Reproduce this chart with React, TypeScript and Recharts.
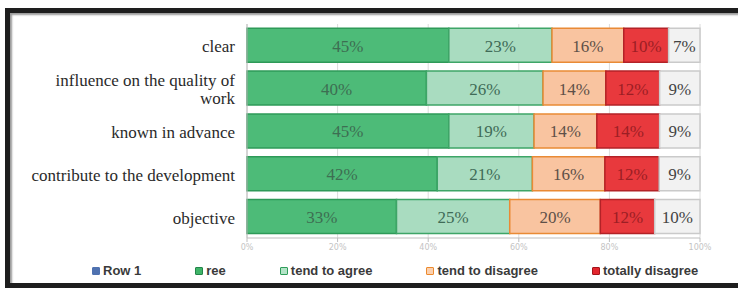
import { BarChart, Bar, XAxis, YAxis, CartesianGrid, LabelList } from 'recharts';

const categories = [
    'clear',
    'influence on the quality of work',
    'known in advance',
    'contribute to the development',
    'objective',
];
const agree = [45, 40, 45, 42, 33];
const tendToAgree = [23, 26, 19, 21, 25];
const tendToDisagree = [16, 14, 14, 16, 20];
const totallyDisagree = [10, 12, 14, 12, 12];
const noAnswer = [7, 9, 9, 9, 10];
const xTicks = [0, 0.2, 0.4, 0.6, 0.8, 1];
const legendLabels = ['Row 1', 'ree', 'tend to agree', 'tend to disagree', 'totally disagree'];

const legendColors = [
    { fill: '#4f72b0', stroke: '#4f72b0' },
    { fill: '#3fb468', stroke: '#23854a' },
    { fill: '#b3e3c7', stroke: '#2f9d5a' },
    { fill: '#fbd0ae', stroke: '#ec8a2e' },
    { fill: '#e3262e', stroke: '#a3141b' },
];

const series = [
    { key: 'agree', fill: '#4dbb78', stroke: '#2e9a58', label: '#3d6e52' },
    { key: 'tendToAgree', fill: '#a9dcc0', stroke: '#3ea567', label: '#3f6b57' },
    { key: 'tendToDisagree', fill: '#f9c4a0', stroke: '#e98a35', label: '#5e5048' },
    { key: 'totallyDisagree', fill: '#e8393d', stroke: '#b32227', label: '#9c1e24' },
    { key: 'noAnswer', fill: '#f2f2f2', stroke: '#cacaca', label: '#444444' },
];

const data = categories.map((name, i) => ({
    name,
    agree: agree[i],
    tendToAgree: tendToAgree[i],
    tendToDisagree: tendToDisagree[i],
    totallyDisagree: totallyDisagree[i],
    noAnswer: noAnswer[i],
}));

function wrapLabel(text: string, max: number) {
    const lines: string[] = [];
    let cur = '';
    text.split(' ').forEach((w) => {
        const next = cur ? cur + ' ' + w : w;
        if (next.length > max && cur) {
            lines.push(cur);
            cur = w;
        } else {
            cur = next;
        }
    });
    if (cur) lines.push(cur);
    return lines;
}

function CategoryTick(props: any) {
    const { x, y, payload } = props;
    const lines = wrapLabel(payload.value, 30);
    const lh = 18;
    const y0 = y - ((lines.length - 1) * lh) / 2 + 1;
    return (
        <text
            x={x}
            y={y0}
            textAnchor="end"
            dominantBaseline="central"
            fontFamily="'Liberation Serif', serif"
            fontSize={17}
            fill="#2a2a2a"
        >
            {lines.map((l, i) => (
                <tspan key={i} x={x} dy={i ? lh : 0}>
                    {l}
                </tspan>
            ))}
        </text>
    );
}

// value label in the middle of each segment, serif like the original
function makeSegmentLabel(color: string) {
    return (props: any) => {
        const { x, y, width, height, value } = props;
        return (
            <text
                x={x + width / 2}
                y={y + height / 2 + 1}
                textAnchor="middle"
                dominantBaseline="central"
                style={{ fontFamily: "'Liberation Serif', serif", fontSize: 17 }}
                fill={color}
            >
                {`${value}%`}
            </text>
        );
    };
}

export default function App() {
    return (
        <div style={{ position: 'fixed', left: 0, top: 0, width: 738, height: 288, background: '#fff', overflow: 'hidden' }}>
            <div
                style={{
                    position: 'absolute',
                    left: 5,
                    top: 8,
                    width: 760,
                    height: 270,
                    border: '5px solid #1e1e1e',
                    boxShadow: 'inset 2px 2px 2px #9a9a9a',
                }}
            />
            <div style={{ position: 'absolute', left: 0, top: 0 }}>
                <BarChart
                    width={738}
                    height={288}
                    data={data}
                    layout="vertical"
                    stackOffset="expand"
                    barCategoryGap="10%"
                    margin={{ top: 24, right: 38, left: 10, bottom: 30 }}
                >
                    <CartesianGrid horizontal={false} stroke="#dcdcdc" />
                    <XAxis
                        type="number"
                        domain={[0, 1]}
                        ticks={xTicks}
                        tickFormatter={(v: number) => `${Math.round(v * 100)}%`}
                        axisLine={{ stroke: '#bdbdbd' }}
                        tickLine={{ stroke: '#bdbdbd' }}
                        tickSize={4}
                        height={20}
                        tick={{ fill: '#c4c4c4', fontSize: 8, fontFamily: "'DejaVu Sans', sans-serif" }}
                    />
                    <XAxis
                        xAxisId="top"
                        orientation="top"
                        type="number"
                        domain={[0, 1]}
                        height={0}
                        tick={false}
                        tickLine={false}
                        axisLine={{ stroke: '#d4d4d4' }}
                    />
                    <YAxis
                        type="category"
                        dataKey="name"
                        width={237}
                        axisLine={{ stroke: '#bdbdbd' }}
                        tickLine={false}
                        tickMargin={6}
                        tick={<CategoryTick />}
                    />
                    {series.map((s) => (
                        <Bar
                            key={s.key}
                            dataKey={s.key}
                            stackId="a"
                            fill={s.fill}
                            stroke={s.stroke}
                            strokeWidth={1.5}
                            isAnimationActive={false}
                        >
                            <LabelList dataKey={s.key} content={makeSegmentLabel(s.label)} />
                        </Bar>
                    ))}
                </BarChart>
            </div>
            <div
                style={{
                    position: 'absolute',
                    left: 92,
                    top: 263,
                    display: 'flex',
                    gap: 54,
                    fontFamily: "'Liberation Sans', sans-serif",
                    fontWeight: 'bold',
                    fontSize: 13,
                    color: '#3a3a3a',
                }}
            >
                {legendLabels.map((label, i) => (
                    <div key={label} style={{ display: 'flex', alignItems: 'center', gap: 3 }}>
                        <span
                            style={{
                                display: 'inline-block',
                                width: 6,
                                height: 6,
                                background: legendColors[i].fill,
                                border: `1.5px solid ${legendColors[i].stroke}`,
                                borderRadius: 1,
                            }}
                        />
                        <span>{label}</span>
                    </div>
                ))}
            </div>
        </div>
    );
}
